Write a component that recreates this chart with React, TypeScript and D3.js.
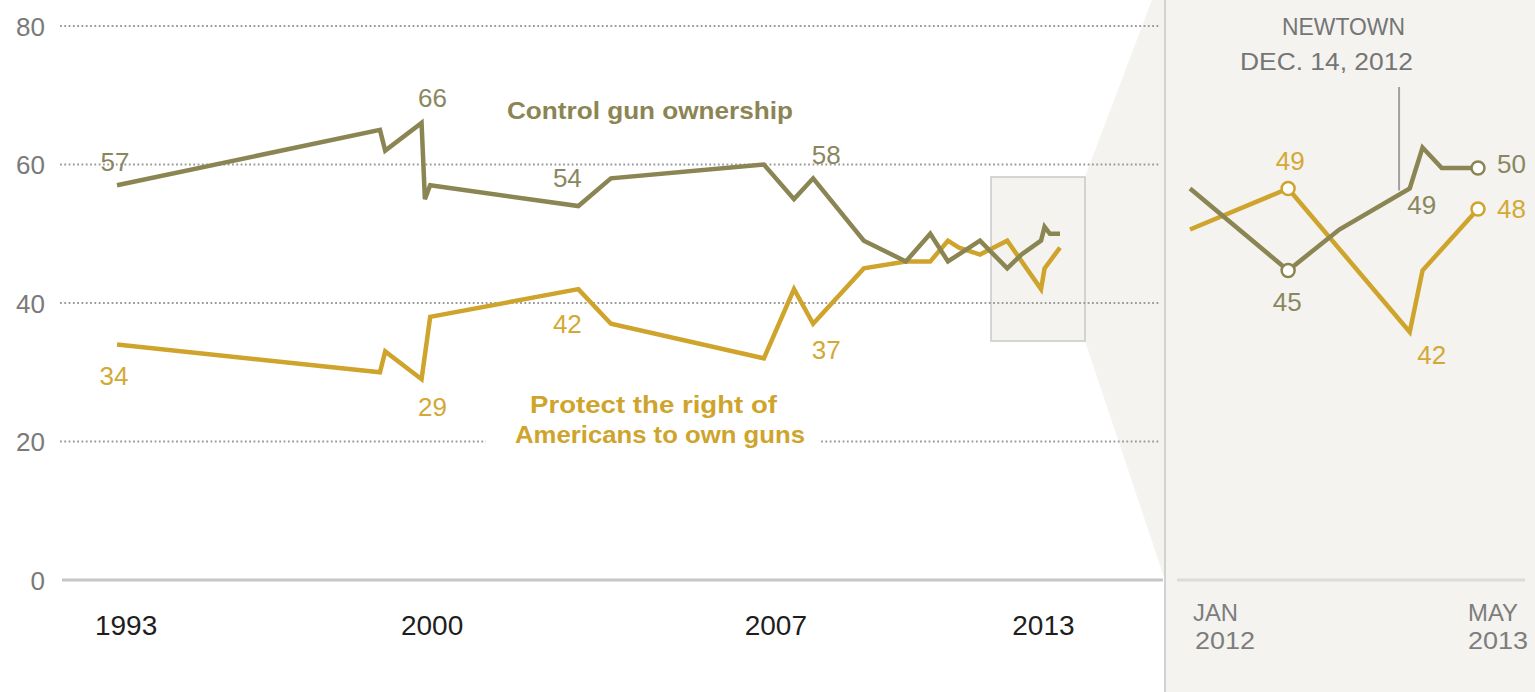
import React from "react";
import * as d3 from "d3";

// ---- data (decimal years) ----
const surveyDates = [
  1993.95, 1999.45, 1999.56, 2000.32, 2000.39, 2000.5, 2003.6, 2004.28, 2007.48,
  2008.11, 2008.51, 2009.57, 2010.45, 2010.96, 2011.33, 2011.56, 2012.0, 2012.46,
  2012.7, 2013.03, 2013.09, 2013.18, 2013.35,
];
const controlGunOwnership: (number | null)[] = [
  57, 65, 62, 66, 55, 57, 54, 58, 60, 55, 58, 49, 46, 50, 46, null, 49, 45, 47, 49, 51, 50, 50,
];
const protectGunRights: (number | null)[] = [
  34, 30, 33, 29, null, 38, 42, 37, 32, 42, 37, 45, 46, 46, 49, 48, 47, 49, null, 42, 45, null, 48,
];
const yTicks = [0, 20, 40, 60, 80];
const xTickPositions = [1994.14, 2000.54, 2007.73, 2013.07];
const xTickLabels = ["1993", "2000", "2007", "2013"];
const insetStart = 2012.0;
const insetEnd = 2013.35;
const newtownDate = 2012.98;

const OLIVE = "#8b8553";
const GOLD = "#cfa42c";
const OLIVE_TXT = "#8a8760";
const GOLD_TXT = "#d3a935";
const PANEL = "#f4f3ef";

type Pt = [number, number];
const series = (vals: (number | null)[]): Pt[] =>
  surveyDates.map((d, i) => [d, vals[i]] as [number, number | null]).filter((p) => p[1] != null) as Pt[];

export default function App() {
  const W = 1535, H = 692;
  const x = d3.scaleLinear().domain([1993.95, insetStart, insetEnd]).range([117, 980, 1060]);
  const y = d3.scaleLinear().domain([0, 80]).range([580, 26]);
  const xi = d3.scaleLinear().domain([insetStart, insetEnd]).range([1190, 1478]);
  const yi = d3.scaleLinear().domain([42, 50]).range([332, 168]);

  const control = series(controlGunOwnership);
  const protect = series(protectGunRights);
  const line = d3.line<Pt>().x((d) => x(d[0])).y((d) => y(d[1]));
  const insetLine = d3.line<Pt>().x((d) => xi(d[0])).y((d) => yi(d[1]));
  const cI = control.filter((d) => d[0] >= insetStart);
  const pI = protect.filter((d) => d[0] >= insetStart);

  // annotations: which points get labels
  const mainLabels = [
    { s: control, i: 0, dx: -2, dy: -24, c: OLIVE_TXT },
    { s: control, i: 3, dx: 11, dy: -25, c: OLIVE_TXT },
    { s: control, i: 6, dx: -11, dy: -29, c: OLIVE_TXT },
    { s: control, i: 10, dx: 13, dy: -24, c: OLIVE_TXT },
    { s: protect, i: 0, dx: -3, dy: 31, c: GOLD_TXT },
    { s: protect, i: 3, dx: 11, dy: 27, c: GOLD_TXT },
    { s: protect, i: 5, dx: -11, dy: 34, c: GOLD_TXT },
    { s: protect, i: 9, dx: 13, dy: 26, c: GOLD_TXT },
  ];
  const cLast = cI[cI.length - 1];
  const pLast = pI[pI.length - 1];
  const cLow = cI[1];
  const pHigh = pI[1];
  const cDec = cI.find((d) => d[0] === 2013.03)!;
  const pDec = pI.find((d) => d[0] === 2013.03)!;

  const font = "'Liberation Sans', Arial, sans-serif";
  const narrow = "'Liberation Sans Narrow', 'Liberation Sans', Arial, sans-serif";

  return (
    <svg width={W} height={H} style={{ position: "absolute", left: 0, top: 0, display: "block" }}>
      <rect x={0} y={0} width={W} height={H} fill="#fff" />
      {/* inset panel and funnel */}
      <rect x={1165} y={0} width={W - 1165} height={H} fill={PANEL} />
      <polygon points="1085,177 1152,0 1165,0 1165,580 1085,341" fill={PANEL} />
      <rect x={991} y={177} width={94} height={164} fill={PANEL} stroke="#c9c9c9" strokeWidth={1.5} />
      <line x1={1165} x2={1165} y1={0} y2={H} stroke="#d2d2d2" strokeWidth={2} />

      {/* gridlines */}
      {yTicks.filter((t) => t > 0).map((t) => (
        <line key={t} x1={60} x2={1160} y1={y(t)} y2={y(t)} stroke="#9a9a9a" strokeWidth={2.2} strokeDasharray="1.8 2.5" />
      ))}
      <line x1={62} x2={1163} y1={y(0)} y2={y(0)} stroke="#c6c6c6" strokeWidth={3} />
      <line x1={1177} x2={1525} y1={y(0)} y2={y(0)} stroke="#dcdcdc" strokeWidth={3} />

      {/* y tick labels */}
      {yTicks.map((t) => (
        <text key={t} x={45} y={y(t) + 9.5} textAnchor="end" fontFamily={font} fontSize={26} fill="#7a7a7a">
          {t}
        </text>
      ))}
      {/* x tick labels */}
      {xTickPositions.map((p, i) => (
        <text key={i} x={x(p)} y={635} textAnchor="middle" fontFamily={font} fontSize={28} fill="#1e1e1e">
          {xTickLabels[i]}
        </text>
      ))}
      <g fontFamily={font} fontSize={24} fill="#7d7d7d">
        <text x={1193} y={621} textLength={45} lengthAdjust="spacingAndGlyphs">JAN</text>
        <text x={1195} y={649} textLength={60} lengthAdjust="spacingAndGlyphs">2012</text>
        <text x={1468} y={621} textLength={50} lengthAdjust="spacingAndGlyphs">MAY</text>
        <text x={1468} y={649} textLength={60} lengthAdjust="spacingAndGlyphs">2013</text>
      </g>

      {/* main lines */}
      <path d={line(protect)!} fill="none" stroke={GOLD} strokeWidth={4.5} strokeLinejoin="miter" strokeMiterlimit={3} />
      <path d={line(control)!} fill="none" stroke={OLIVE} strokeWidth={4.5} strokeLinejoin="miter" strokeMiterlimit={3} />

      {/* main value labels */}
      {mainLabels.map((l, k) => {
        const p = l.s[l.i];
        return (
          <text key={k} x={x(p[0]) + l.dx} y={y(p[1]) + l.dy + 9.5} textAnchor="middle" fontFamily={font} fontSize={26} fill={l.c}>
            {p[1]}
          </text>
        );
      })}

      {/* series labels */}
      <text x={507} y={119} fontFamily={narrow} fontWeight="bold" fontSize={24} fill={OLIVE} textLength={286} lengthAdjust="spacingAndGlyphs">
        Control gun ownership
      </text>
      <rect x={486} y={388} width={334} height={66} fill="#fff" />
      <text x={530} y={413} fontFamily={narrow} fontWeight="bold" fontSize={24} fill={GOLD} textLength={247} lengthAdjust="spacingAndGlyphs">
        Protect the right of
      </text>
      <text x={515} y={443} fontFamily={narrow} fontWeight="bold" fontSize={24} fill={GOLD} textLength={290} lengthAdjust="spacingAndGlyphs">
        Americans to own guns
      </text>

      {/* inset */}
      <line x1={xi(newtownDate)} x2={xi(newtownDate)} y1={87} y2={yi(49) + 2} stroke="#a0a0a0" strokeWidth={2} />
      <text x={1282} y={35} fontFamily={font} fontSize={24} fill="#757575" textLength={123} lengthAdjust="spacingAndGlyphs">NEWTOWN</text>
      <text x={1240} y={70} fontFamily={font} fontSize={24} fill="#757575" textLength={173} lengthAdjust="spacingAndGlyphs">DEC. 14, 2012</text>
      <path d={insetLine(pI)!} fill="none" stroke={GOLD} strokeWidth={4.5} strokeLinejoin="miter" strokeMiterlimit={3} />
      <path d={insetLine(cI)!} fill="none" stroke={OLIVE} strokeWidth={4.5} strokeLinejoin="miter" strokeMiterlimit={3} />
      {[cLow, cLast].map((d, k) => (
        <circle key={"c" + k} cx={xi(d[0])} cy={yi(d[1])} r={6.5} fill="#fff" stroke={OLIVE} strokeWidth={2.5} />
      ))}
      {[pHigh, pLast].map((d, k) => (
        <circle key={"p" + k} cx={xi(d[0])} cy={yi(d[1])} r={6.5} fill="#fff" stroke={GOLD} strokeWidth={2.5} />
      ))}
      <g fontFamily={font} fontSize={26}>
        <text x={xi(cLow[0]) - 1} y={yi(cLow[1]) + 40} textAnchor="middle" fill={OLIVE_TXT}>{cLow[1]}</text>
        <text x={xi(pHigh[0]) + 2} y={yi(pHigh[1]) - 19} textAnchor="middle" fill={GOLD_TXT}>{pHigh[1]}</text>
        <text x={xi(cDec[0]) + 12} y={yi(cDec[1]) + 25} textAnchor="middle" fill={OLIVE_TXT}>{cDec[1]}</text>
        <text x={xi(pDec[0]) + 22} y={yi(pDec[1]) + 32} textAnchor="middle" fill={GOLD_TXT}>{pDec[1]}</text>
        <text x={1497} y={yi(cLast[1]) + 5} fill={OLIVE_TXT}>{cLast[1]}</text>
        <text x={1497} y={yi(pLast[1]) + 9} fill={GOLD_TXT}>{pLast[1]}</text>
      </g>
    </svg>
  );
}
